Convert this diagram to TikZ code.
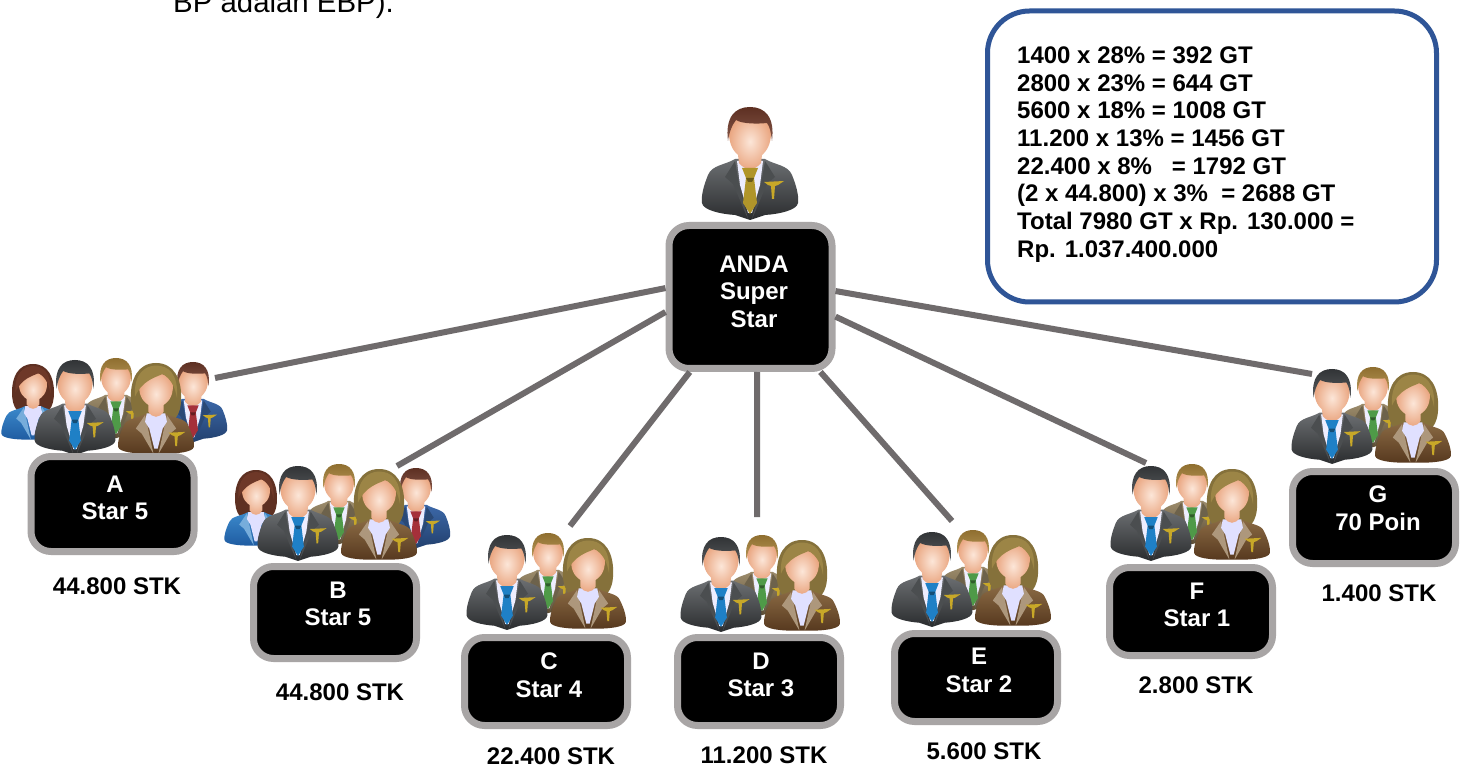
\documentclass[tikz,border=0pt]{standalone}
\usepackage{fontspec}
\setmainfont{Liberation Sans}
\definecolor{linegray}{HTML}{6F6B6C}
\definecolor{boxgray}{HTML}{A8A5A5}
\definecolor{infoblue}{HTML}{2F5597}
\definecolor{skinA}{HTML}{FCE6D8}
\definecolor{skinB}{HTML}{E9A47E}
\definecolor{pingold}{HTML}{C8A828}
\tikzset{
  x=1pt,y=-1pt,
  rankbox/.style={draw=boxgray,fill=black,line width=7pt,rounded corners=20pt,minimum width=163pt,minimum height=#1,inner sep=0pt},
  rankbox/.default=90pt,
  ranktext/.style={text=white,font=\fontsize{24}{27.6}\selectfont\bfseries,align=center,inner sep=0pt},
  stklabel/.style={font=\fontsize{24}{27.6}\selectfont\bfseries,inner sep=0pt},
  link/.style={draw=linegray,line width=6pt},
  infobox/.style={draw=infoblue,line width=5pt,fill=white,rounded corners=42pt,minimum width=449pt,minimum height=291pt,inner sep=0pt},
}
% x, top y, scale, hair, suit light, suit dark, tie
\newcommand\manfig[7]{%
\begin{scope}[shift={(#1,#2)},scale=#3]
 \path[top color=#5,bottom color=#6] (-15,52) .. controls (-25,58) and (-38,58) .. (-42,68) .. controls (-46,78) and (-49,88) .. (-48,96) .. controls (-47,103) and (-30,107) .. (-15,108) -- (0,113) -- (15,108) .. controls (30,107) and (47,103) .. (48,96) .. controls (49,88) and (46,78) .. (42,68) .. controls (38,58) and (25,58) .. (15,52) -- cycle;
 \fill[#5!70!black] (-15,54) -- (-25,70) -- (-17,77) -- (-2,112) -- (-11,78) -- cycle;
 \fill[#5!70!black] (15,54) -- (25,70) -- (17,77) -- (2,112) -- (11,78) -- cycle;
 \fill[white!93!blue] (-13,54) -- (13,54) -- (10,78) -- (2,106) -- (-2,106) -- (-10,78) -- cycle;
 \path[inner color=skinA,outer color=skinB] (-21,22) .. controls (-22,40) and (-14,46) .. (-12,48) -- (-11,56) .. controls (-5,64) and (5,64) .. (11,56) -- (12,48) .. controls (14,46) and (22,40) .. (21,22) .. controls (18,5) and (-18,5) .. (-21,22);
 \fill[#7] (-8,61) -- (8,61) -- (4,71) -- (7,96) -- (0,107) -- (-7,96) -- (-4,71) -- cycle;
 \fill[#7!60!black] (-4,71) -- (4,71) -- (2,75) -- (-2,75) -- cycle;
 \path[top color=#4!85!black,bottom color=#4!85!white] (-22,34) .. controls (-25,10) and (-15,0) .. (0,0) .. controls (15,0) and (25,10) .. (22,34) .. controls (21,26) and (20,20) .. (17,16) .. controls (8,17) and (-8,17) .. (-14,13) .. controls (-18,18) and (-21,26) .. (-22,34) -- cycle;
 \fill[pingold] (14,75) -- (34,74) -- (28,78) -- (25,79) -- (24,92) -- (22,92) -- (21,79) -- (18,78) -- cycle;
\end{scope}}
% x, top y, scale, hair, suit light, suit dark
\newcommand\womanfig[6]{%
\begin{scope}[shift={(#1,#2)},scale=#3]
 \fill[#4!85!black] (0,0) .. controls (22,0) and (30,20) .. (30,40) .. controls (30,52) and (28,60) .. (23,66) -- (-23,66) .. controls (-28,60) and (-30,52) .. (-30,40) .. controls (-30,20) and (-22,0) .. (0,0) -- cycle;
 \path[top color=#5,bottom color=#6] (-11,60) .. controls (-22,66) and (-35,66) .. (-38,74) .. controls (-43,84) and (-46,94) .. (-45,100) .. controls (-44,106) and (-25,108) .. (-10,108) -- (10,108) .. controls (25,108) and (44,106) .. (45,100) .. controls (46,94) and (43,84) .. (38,74) .. controls (35,66) and (22,66) .. (11,60) -- cycle;
 \fill[#5!70!white] (-13,62) -- (-24,78) -- (-17,84) -- (-3,108) -- (-8,85) -- cycle;
 \fill[#5!70!white] (13,62) -- (24,78) -- (17,84) -- (3,108) -- (8,85) -- cycle;
 \fill[white!88!blue] (-11,60) -- (11,60) -- (13,70) -- (8,78) -- (2,102) -- (-2,102) -- (-8,78) -- (-13,70) -- cycle;
 \path[inner color=skinA,outer color=skinB] (-20,26) .. controls (-21,42) and (-12,48) .. (-9,50) -- (-9,58) .. controls (-4,66) and (4,66) .. (9,58) -- (9,50) .. controls (12,48) and (21,42) .. (20,26) .. controls (18,8) and (-18,8) .. (-20,26) -- cycle;
 \fill[#4] (-25,40) .. controls (-27,12) and (-12,3) .. (0,3) .. controls (14,3) and (27,12) .. (25,42) .. controls (23,30) and (19,20) .. (8,13) .. controls (0,17) and (-16,20) .. (-25,40) -- cycle;
 \fill[pingold] (15,83) -- (35,82) -- (29,86) -- (26,87) -- (25,99) -- (23,99) -- (22,87) -- (19,86) -- cycle;
\end{scope}}
\newcommand\threegroup[2]{%
 \manfig{#1+41}{#2-2}{0.71}{blondhair}{tansuit}{tansuitd}{greentie}
 \manfig{#1}{#2}{0.84}{darkhair}{darksuit}{darksuitd}{bluetie}
 \womanfig{#1+81}{#2+3}{0.84}{womanhair}{brownsuit}{brownsuitd}}
\newcommand\fivegroup[2]{%
 \womanfig{#1-42}{#2+4}{0.70}{redhair}{bluesuit}{bluesuitd}
 \manfig{#1+118}{#2+2}{0.71}{redhair}{navysuit}{navysuitd}{redtie}
 \threegroup{#1}{#2}}
\definecolor{blondhair}{HTML}{A88238}
\definecolor{darkhair}{HTML}{3A3D40}
\definecolor{womanhair}{HTML}{9C8546}
\definecolor{redhair}{HTML}{6E3828}
\definecolor{tansuit}{HTML}{9C8C6C}
\definecolor{tansuitd}{HTML}{5C4C34}
\definecolor{darksuit}{HTML}{6C6F72}
\definecolor{darksuitd}{HTML}{2A2C2E}
\definecolor{brownsuit}{HTML}{8A6A44}
\definecolor{brownsuitd}{HTML}{57391F}
\definecolor{bluesuit}{HTML}{3C8ACC}
\definecolor{bluesuitd}{HTML}{1F5CA2}
\definecolor{navysuit}{HTML}{3C68A8}
\definecolor{navysuitd}{HTML}{22406E}
\definecolor{bluetie}{HTML}{1F80C6}
\definecolor{greentie}{HTML}{4F9A48}
\definecolor{redtie}{HTML}{A5303A}
\definecolor{goldtie}{HTML}{B0952A}
\begin{document}
\begin{tikzpicture}
\useasboundingbox (0,0) rectangle (1465,767);
\clip (0,0) rectangle (1465,767);
\fill[white] (0,0) rectangle (1465,767);
\node[anchor=base west,inner sep=0pt,font=\fontsize{29.4}{32}\selectfont] (topline) at (173,12.5) {BP adalah EBP).};
% figures
\manfig{750}{107}{1}{redhair}{darksuit}{darksuitd}{goldtie}
\fivegroup{75}{360}
\fivegroup{298}{466}
\threegroup{507}{535}
\threegroup{721}{537}
\threegroup{932}{532}
\threegroup{1151}{466}
\threegroup{1332}{369}
% boxes
\node[rankbox=143pt] (anda) at (750.5,297) {};
\node[rankbox=95pt] (boxA) at (112.5,504) {};
\node[rankbox=92pt] (boxB) at (335,612.5) {};
\node[rankbox=88pt] (boxC) at (546,681.5) {};
\node[rankbox=88pt] (boxD) at (759,681.5) {};
\node[rankbox=88pt] (boxE) at (976,677.5) {};
\node[rankbox=88pt] (boxF) at (1191,611.5) {};
\node[rankbox=92pt] (boxG) at (1374,517.5) {};
\node[ranktext] (tanda) at (754,291.5) {ANDA\\Super\\Star};
\node[ranktext] (tA) at (115,498) {A\\Star 5};
\node[ranktext] (tB) at (338,604) {B\\Star 5};
\node[ranktext] (tC) at (549,675.5) {C\\Star 4};
\node[ranktext] (tD) at (761,675) {D\\Star 3};
\node[ranktext] (tE) at (979,670.5) {E\\Star 2};
\node[ranktext] (tF) at (1197,605) {F\\Star 1};
\node[ranktext] (tG) at (1378,508.5) {G\\70 Poin};
\node[stklabel] (sA) at (117,586) {44.800 STK};
\node[stklabel] (sB) at (340,692) {44.800 STK};
\node[stklabel] (sC) at (551,756) {22.400 STK};
\node[stklabel] (sD) at (764,755) {11.200 STK};
\node[stklabel] (sE) at (984,751) {5.600 STK};
\node[stklabel] (sF) at (1196,685) {2.800 STK};
\node[stklabel] (sG) at (1379,593) {1.400 STK};
% connector ends
\coordinate (endA) at (215,378);
\coordinate (endB) at (397,466);
\coordinate (endC) at (570,526);
\coordinate (endD) at (757,517);
\coordinate (endE) at (952,521);
\coordinate (endF) at (1146,463);
\coordinate (endG) at (1312,374);
\draw[link] (anda.174) -- (endA);
\draw[link] (anda.190) -- (endB);
\draw[link] (anda.231) -- (endC);
\draw[link] (anda.275) -- (endD);
\draw[link] (anda.313) -- (endE);
\draw[link] (anda.347.5) -- (endF);
\draw[link] (anda.4.7) -- (endG);
% info box
\node[infobox] (info) at (1212,156.5) {};
\node[anchor=north west,inner sep=0pt,align=left,font=\fontsize{24}{27.7}\selectfont\bfseries] (infotext) at (1017,46.5) {1400 x 28\% = 392 GT\\2800 x 23\% = 644 GT\\5600 x 18\% = 1008 GT\\11.200 x 13\% = 1456 GT\\22.400 x 8\%\ \ \ = 1792 GT\\(2 x 44.800) x 3\%\ \ = 2688 GT\\Total 7980 GT x Rp. 130.000 =\\Rp. 1.037.400.000};
\end{tikzpicture}
\end{document}
